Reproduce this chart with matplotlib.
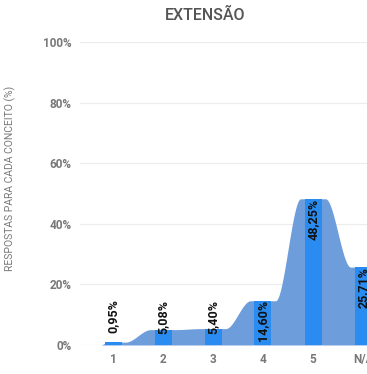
import matplotlib
matplotlib.use("Agg")
import matplotlib.pyplot as plt
import numpy as np

categories = ["1", "2", "3", "4", "5", "N/A"]
values = [0.95, 5.08, 5.40, 14.60, 48.25, 25.71]
labels = ["0,95%", "5,08%", "5,40%", "14,60%", "48,25%", "25,71%"]
yticks = [0, 20, 40, 60, 80, 100]

C_BAR = "#2a8cf0"
C_AREA = "#6e9ddc"
C_TEXT = "#787878"

plt.rcParams["font.family"] = ["Roboto", "DejaVu Sans"]

fig = plt.figure(figsize=(3.67, 3.74), dpi=100)
ax = fig.add_axes([80 / 367, 29 / 374, 1 - 80 / 367, 303 / 374])

x = np.arange(len(categories))

# smooth step area behind the bars
def smooth(t):
    t = np.clip(t, 0, 1)
    return t * t * (3 - 2 * t)

xs = np.linspace(-0.25, 5.2, 800)
ys = np.zeros_like(xs)
for k, xv in enumerate(xs):
    if xv < -0.1:
        ys[k] = values[0] * smooth((xv + 0.25) / 0.15)
        continue
    i = int(np.floor(xv))
    i = min(max(i, 0), len(values) - 1)
    if i >= len(values) - 1:
        ys[k] = values[-1]
        continue
    ys[k] = values[i] + (values[i + 1] - values[i]) * smooth((xv - i - 0.25) / 0.5)
ax.fill_between(xs, 0, ys, color=C_AREA, lw=0, zorder=1)

ax.bar(x, values, width=0.34, color=C_BAR, zorder=2)

# labels hang from the bar top, pushed up so they never drop below 0%
for xi, v, lab in zip(x, values, labels):
    ax.text(xi, max(v, 15.0), lab, rotation=90, ha="center", va="top",
            fontsize=9, fontweight="bold", color="#111111", zorder=3)

ax.set_xlim(-0.66, 5.08)
ax.set_ylim(0, 100)
ax.set_yticks(yticks)
ax.set_yticklabels([f"{t}%" for t in yticks])
ax.set_xticks(x)
ax.set_xticklabels(categories)
ax.tick_params(length=0, labelsize=8.5, colors=C_TEXT, pad=6)
for t in ax.get_xticklabels() + ax.get_yticklabels():
    t.set_fontweight("bold")
ax.grid(axis="y", color="#ececec", lw=0.8, zorder=0)
ax.set_axisbelow(True)
for s in ax.spines.values():
    s.set_visible(False)

fig.text(205 / 367, 1 - 15 / 374, "EXTENSÃO", ha="center", va="center",
         fontsize=11.5, fontweight="medium", color="#555555")
fig.text(10 / 367, 1 - 178 / 374, "RESPOSTAS PARA CADA CONCEITO (%)",
         rotation=90, ha="center", va="center", fontsize=7.5, color=C_TEXT)

fig.savefig("out.png", dpi=100)
